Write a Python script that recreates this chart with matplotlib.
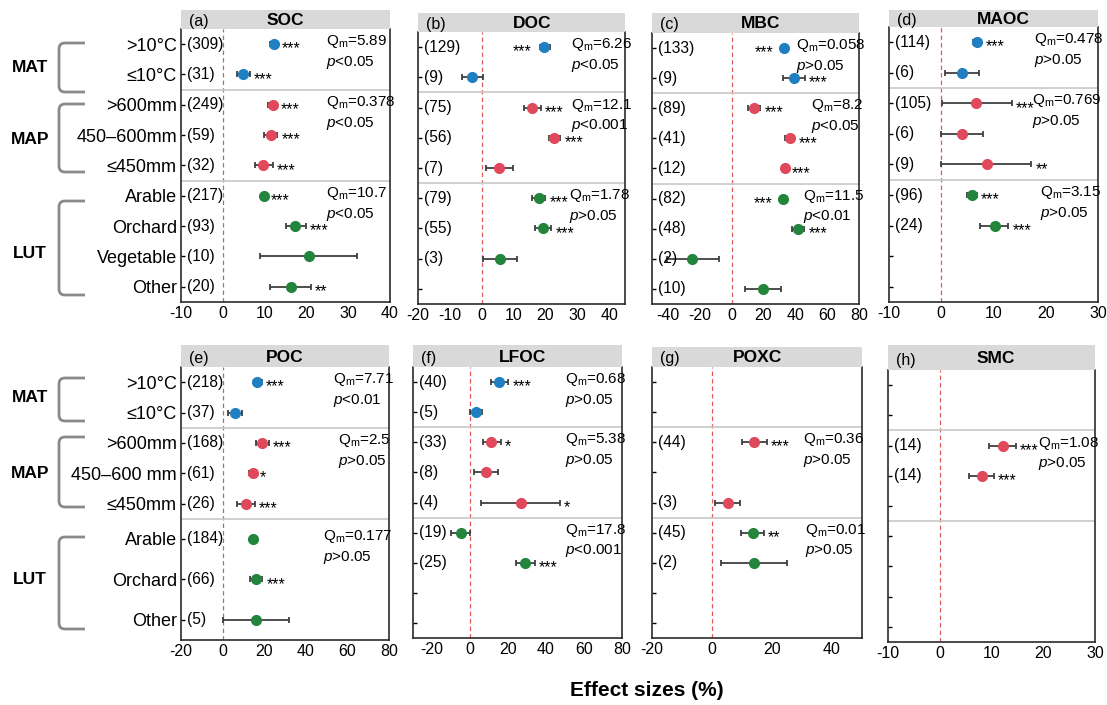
import matplotlib
matplotlib.use('Agg')
import matplotlib.pyplot as plt
from matplotlib.path import Path
from matplotlib.patches import PathPatch

plt.rcParams['font.family'] = ['Liberation Sans', 'DejaVu Sans']
plt.rcParams['mathtext.fontset'] = 'custom'
plt.rcParams['mathtext.rm'] = 'Liberation Sans'
plt.rcParams['mathtext.it'] = 'Liberation Sans:italic'
plt.rcParams['axes.unicode_minus'] = False

# ---------------- data ----------------
MAT_cats = ['>10°C', '≤10°C']
MAP_cats = ['>600mm', '450–600mm', '≤450mm']
LUT_cats = ['Arable', 'Orchard', 'Vegetable', 'Other']

SOC_cat = ['>10°C', '≤10°C', '>600mm', '450–600mm', '≤450mm', 'Arable', 'Orchard', 'Vegetable', 'Other']
SOC_n = [309, 31, 249, 59, 32, 217, 93, 10, 20]
SOC_mean = [12.3, 4.9, 11.9, 11.5, 9.6, 9.9, 17.3, 20.6, 16.2]
SOC_lo = [11.4, 3.3, 10.9, 9.9, 7.7, 9.3, 15.0, 8.9, 11.2]
SOC_hi = [13.2, 6.5, 12.8, 13.0, 11.9, 10.5, 19.8, 32.2, 21.0]
SOC_sig = ['***', '***', '***', '***', '***', '***', '***', '', '**']
SOC_side = ['r'] * 9
SOC_qm_grp = ['MAT', 'MAP', 'LUT']
SOC_qm = ['5.89', '0.378', '10.7']
SOC_p = ['<0.05', '<0.05', '<0.05']

DOC_cat = ['>10°C', '≤10°C', '>600mm', '450–600mm', '≤450mm', 'Arable', 'Orchard', 'Vegetable']
DOC_n = [129, 9, 75, 56, 7, 79, 55, 3]
DOC_mean = [19.7, -3.0, 15.7, 22.8, 5.4, 17.9, 19.2, 5.8]
DOC_lo = [18.3, -6.2, 13.3, 21.2, 1.2, 15.9, 16.8, 0.4]
DOC_hi = [21.5, 0.4, 18.6, 24.7, 9.8, 20.0, 21.8, 11.2]
DOC_sig = ['***', '', '***', '***', '', '***', '***', '']
DOC_side = ['l', 'r', 'r', 'r', 'r', 'r', 'r', 'r']
DOC_qm_grp = ['MAT', 'MAP', 'LUT']
DOC_qm = ['6.26', '12.1', '1.78']
DOC_p = ['<0.05', '<0.001', '>0.05']

MBC_cat = ['>10°C', '≤10°C', '>600mm', '450–600mm', '≤450mm', 'Arable', 'Orchard', 'Vegetable', 'Other']
MBC_n = [133, 9, 89, 41, 12, 82, 48, 2, 10]
MBC_mean = [33.0, 39.2, 14.2, 36.7, 33.6, 32.5, 41.9, -24.9, 19.4]
MBC_lo = [31.5, 32.5, 10.6, 33.6, 32.2, 31.0, 38.2, -40.6, 8.1]
MBC_hi = [34.7, 46.0, 17.9, 39.4, 35.0, 34.0, 45.7, -8.2, 31.0]
MBC_sig = ['***', '***', '***', '***', '***', '***', '***', '', '']
MBC_side = ['l', 'r', 'r', 'r', 'r', 'l', 'r', 'r', 'r']
MBC_qm_grp = ['MAT', 'MAP', 'LUT']
MBC_qm = ['0.058', '8.2', '11.5']
MBC_p = ['>0.05', '<0.05', '<0.01']

MAOC_cat = ['>10°C', '≤10°C', '>600mm', '450–600mm', '≤450mm', 'Arable', 'Orchard']
MAOC_n = [114, 6, 105, 6, 9, 96, 24]
MAOC_mean = [6.9, 3.9, 6.6, 3.9, 8.7, 5.8, 10.2]
MAOC_lo = [6.0, 0.7, 0.1, 0.0, 0.0, 4.9, 7.5]
MAOC_hi = [7.7, 7.3, 13.5, 7.9, 17.2, 6.8, 12.8]
MAOC_sig = ['***', '', '***', '', '**', '***', '***']
MAOC_side = ['r'] * 7
MAOC_qm_grp = ['MAT', 'MAP', 'LUT']
MAOC_qm = ['0.478', '0.769', '3.15']
MAOC_p = ['>0.05', '>0.05', '>0.05']

POC_cat = ['>10°C', '≤10°C', '>600mm', '450–600 mm', '≤450mm', 'Arable', 'Orchard', 'Other']
POC_n = [218, 37, 168, 61, 26, 184, 66, 5]
POC_mean = [16.7, 6.0, 19.1, 14.5, 11.1, 14.8, 16.1, 16.1]
POC_lo = [15.1, 2.5, 16.1, 12.8, 6.8, 14.0, 13.2, 0.0]
POC_hi = [18.8, 9.5, 22.2, 16.0, 15.6, 15.6, 19.1, 32.0]
POC_sig = ['***', '', '***', '*', '***', '', '***', '']
POC_side = ['r'] * 8
POC_qm_grp = ['MAT', 'MAP', 'LUT']
POC_qm = ['7.71', '2.5', '0.177']
POC_p = ['<0.01', '>0.05', '>0.05']

LFOC_cat = ['>10°C', '≤10°C', '>600mm', '450–600mm', '≤450mm', 'Arable', 'Orchard']
LFOC_n = [40, 5, 33, 8, 4, 19, 25]
LFOC_mean = [15.4, 3.1, 11.3, 8.3, 26.8, -5.0, 28.9]
LFOC_lo = [10.8, 0.0, 6.6, 2.0, 5.7, -9.8, 24.0]
LFOC_hi = [20.1, 6.4, 16.1, 14.8, 47.4, 0.0, 34.2]
LFOC_sig = ['***', '', '*', '', '*', '', '***']
LFOC_side = ['r'] * 7
LFOC_qm_grp = ['MAT', 'MAP', 'LUT']
LFOC_qm = ['0.68', '5.38', '17.8']
LFOC_p = ['>0.05', '>0.05', '<0.001']

POXC_cat = ['>600mm', '≤450mm', 'Arable', 'Orchard']
POXC_n = [44, 3, 45, 2]
POXC_mean = [14.0, 5.3, 13.7, 14.0]
POXC_lo = [10.0, 1.0, 9.7, 3.0]
POXC_hi = [18.3, 9.3, 17.3, 25.0]
POXC_sig = ['***', '', '**', '']
POXC_side = ['r'] * 4
POXC_qm_grp = ['MAP', 'LUT']
POXC_qm = ['0.36', '0.01']
POXC_p = ['>0.05', '>0.05']

SMC_cat = ['>600mm', '450–600mm']
SMC_n = [14, 14]
SMC_mean = [12.2, 8.1]
SMC_lo = [9.5, 5.7]
SMC_hi = [14.7, 10.5]
SMC_sig = ['***', '***']
SMC_side = ['r', 'r']
SMC_qm_grp = ['MAP']
SMC_qm = ['1.08']
SMC_p = ['>0.05']

# ---------------- layout ----------------
W, H = 1107, 705
fig = plt.figure(figsize=(W / 100, H / 100), dpi=100)

GROUP_COLOR = {'MAT': '#1f7fc0', 'MAP': '#e0485c', 'LUT': '#23843c'}
ALL_CATS = MAT_cats + MAP_cats + LUT_cats


def rect(l, r, t, b):
    return [l / W, 1 - b / H, (r - l) / W, (b - t) / H]


def slot(c):
    return ALL_CATS.index(c.replace(' mm', 'mm')) + 1


def group_of(c):
    s = slot(c)
    return 'MAT' if s <= 2 else ('MAP' if s <= 5 else 'LUT')


def ypositions(cats, spread_lut):
    ys = []
    luts = [c for c in cats if group_of(c) == 'LUT']
    for c in cats:
        if spread_lut and group_of(c) == 'LUT':
            i = luts.index(c)
            ys.append(5.5 + (i + 0.5) * 4.0 / len(luts))
        else:
            ys.append(float(slot(c)))
    return ys


def draw(box, htop, letter, title, tdx, cat, n, mean, lo, hi, sig, side,
         qgrp, qm, pv, xlim, xticks, qx, ylabels=False, spread_lut=False):
    l, r, t, b = box
    ax = fig.add_axes(rect(l, r, t, b))
    hax = fig.add_axes(rect(l, r, htop, t))
    hax.set_facecolor('#d9d9d9')
    hax.set_xticks([]); hax.set_yticks([])
    for s in hax.spines.values():
        s.set_visible(False)
    hax.text(0.5 + tdx, 0.45, title, ha='center', va='center', fontsize=12.5,
             fontweight='bold', transform=hax.transAxes)
    hax.text(8 / (r - l), 0.4, letter, ha='left', va='center', fontsize=11.5,
             transform=hax.transAxes)

    ax.set_xlim(*xlim)
    ax.set_ylim(9.5, 0.5)
    ax.set_xticks(xticks)
    ax.tick_params(axis='x', length=0, pad=3, labelsize=11.5)
    ax.axvline(0, color='#e05a5a', ls=(0, (3.5, 2.5)), lw=0.9, zorder=1)
    for s in (2.5, 5.5):
        ax.axhline(s, color='#c8c8c8', lw=1.2, zorder=1)
    for sname, s in ax.spines.items():
        s.set_color('#2b2b2b'); s.set_linewidth(1.2)
    ax.spines['top'].set_visible(False)

    ys = ypositions(cat, spread_lut)
    for c, y, nn, m, a, z, sg, sd in zip(cat, ys, n, mean, lo, hi, sig, side):
        col = GROUP_COLOR[group_of(c)]
        ax.errorbar([m], [y], xerr=[[m - a], [z - m]], fmt='none', ecolor='#404040',
                    elinewidth=1.3, capsize=2.5, capthick=1.3, zorder=2)
        ax.plot([m], [y], 'o', color=col, ms=7, mec=col, zorder=3)
        ax.annotate('(%d)' % nn, xy=(0, y), xycoords=('axes fraction', 'data'),
                    xytext=(4, 0), textcoords='offset points', ha='left', va='center',
                    fontsize=11.2)
        if sg:
            if sd == 'r':
                ax.annotate(sg, xy=(z, y), xytext=(3, -3.5), textcoords='offset points',
                            ha='left', va='center', fontsize=11.5)
            else:
                ax.annotate(sg, xy=(a, y), xytext=(-6, -3.5), textcoords='offset points',
                            ha='right', va='center', fontsize=11.5)

    for g, q, p, x in zip(qgrp, qm, pv, qx):
        yg = min(y for c, y in zip(cat, ys) if group_of(c) == g)
        ax.text(x, yg - 0.08, r'Q$_\mathrm{m}$=' + q, ha='left', va='center', fontsize=11)
        ax.text(x, yg + 0.6, r'$\mathit{p}$' + p, ha='left', va='center', fontsize=11)

    if ylabels:
        ax.set_yticks(ys)
        ax.set_yticklabels(cat, fontsize=13)
    else:
        if spread_lut:
            ax.set_yticks(ys)
        else:
            ax.set_yticks(range(1, 10))
        ax.set_yticklabels([])
    ax.tick_params(axis='y', direction='in', length=3, width=1, pad=3)
    return ax


draw((181, 390, 29, 302), 10, '(a)', 'SOC', 0.0, SOC_cat, SOC_n, SOC_mean, SOC_lo, SOC_hi,
     SOC_sig, SOC_side, SOC_qm_grp, SOC_qm, SOC_p, (-10, 40), range(-10, 41, 10),
     [24.7, 24.7, 24.7], ylabels=True)
draw((418, 625, 32, 304), 13, '(b)', 'DOC', 0.05, DOC_cat, DOC_n, DOC_mean, DOC_lo, DOC_hi,
     DOC_sig, DOC_side, DOC_qm_grp, DOC_qm, DOC_p, (-20, 45), range(-20, 41, 10),
     [28.0, 28.0, 27.4])
draw((652, 859, 33, 304), 13, '(c)', 'MBC', 0.025, MBC_cat, MBC_n, MBC_mean, MBC_lo, MBC_hi,
     MBC_sig, MBC_side, MBC_qm_grp, MBC_qm, MBC_p, (-50, 80), range(-40, 81, 20),
     [40.3, 50.0, 44.9])
draw((889, 1098, 27, 302), 10, '(d)', 'MAOC', 0.045, MAOC_cat, MAOC_n, MAOC_mean, MAOC_lo,
     MAOC_hi, MAOC_sig, MAOC_side, MAOC_qm_grp, MAOC_qm, MAOC_p, (-10, 30), range(-10, 31, 10),
     [17.7, 17.4, 18.9])
draw((181, 389, 367, 640), 345, '(e)', 'POC', 0.0, POC_cat, POC_n, POC_mean, POC_lo, POC_hi,
     POC_sig, POC_side, POC_qm_grp, POC_qm, POC_p, (-20, 80), range(-20, 81, 20),
     [53.0, 55.5, 48.3], ylabels=True, spread_lut=True)
draw((413, 622, 367, 638), 345, '(f)', 'LFOC', 0.025, LFOC_cat, LFOC_n, LFOC_mean, LFOC_lo,
     LFOC_hi, LFOC_sig, LFOC_side, LFOC_qm_grp, LFOC_qm, LFOC_p, (-30, 80), range(-20, 81, 20),
     [50.0, 50.0, 50.0])
draw((652, 862, 367, 638), 347, '(g)', 'POXC', 0.0, POXC_cat, POXC_n, POXC_mean, POXC_lo,
     POXC_hi, POXC_sig, POXC_side, POXC_qm_grp, POXC_qm, POXC_p, (-20, 50), range(-20, 41, 20),
     [30.2, 31.0])
draw((888, 1095, 370, 642), 345, '(h)', 'SMC', 0.02, SMC_cat, SMC_n, SMC_mean, SMC_lo, SMC_hi,
     SMC_sig, SMC_side, SMC_qm_grp, SMC_qm, SMC_p, (-10, 30), range(-10, 31, 10),
     [18.9])

# ---------------- brackets and group labels ----------------
def bracket(top, bot, xv=59, xa=85, rr=6):
    verts = [(xa, top), (xv + rr, top), (xv, top), (xv, top + rr), (xv, bot - rr),
             (xv, bot), (xv + rr, bot), (xa, bot)]
    codes = [Path.MOVETO, Path.LINETO, Path.CURVE3, Path.CURVE3, Path.LINETO,
             Path.CURVE3, Path.CURVE3, Path.LINETO]
    verts = [(x / W, 1 - y / H) for x, y in verts]
    fig.add_artist(PathPatch(Path(verts, codes), fill=False, edgecolor='#8a8a8a',
                             lw=2, transform=fig.transFigure))


for (tp, bt), lab, yl in zip([(43, 92), (104, 172), (201, 295), (378, 421), (437, 507), (537, 629)],
                             ['MAT', 'MAP', 'LUT', 'MAT', 'MAP', 'LUT'],
                             [68, 140, 253, 397, 473, 579]):
    bracket(tp, bt)
    fig.text(30 / W, 1 - yl / H, lab, ha='center', va='center', fontsize=12.5, fontweight='bold')

fig.text(647 / W, 1 - 691 / H, 'Effect sizes (%)', ha='center', va='center',
         fontsize=15, fontweight='bold')

fig.savefig('out.png', dpi=100)
